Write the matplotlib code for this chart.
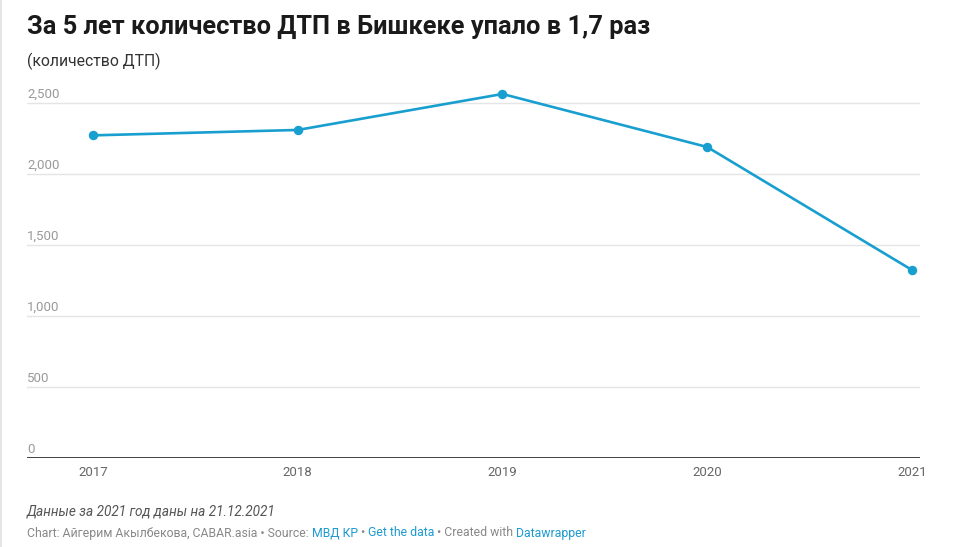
import matplotlib.pyplot as plt
from matplotlib.lines import Line2D
import matplotlib.transforms as mtransforms

years = [2017, 2018, 2019, 2020, 2021]
accidents = [2271, 2309, 2562, 2189, 1324]
y_ticks = [0, 500, 1000, 1500, 2000, 2500]
y_tick_labels = ["0", "500", "1,000", "1,500", "2,000", "2,500"]

title = "За 5 лет количество ДТП в Бишкеке упало в 1,7 раз"
subtitle = "(количество ДТП)"
note = "Данные за 2021 год даны на 21.12.2021"
footer = [("Chart: Айгерим Акылбекова, CABAR.asia • Source: ", "#888888"),
          ("МВД КР", "#1d9ad0"), (" • ", "#888888"),
          ("Get the data", "#1d9ad0"), (" • Created with ", "#888888"),
          ("Datawrapper", "#1d9ad0")]

plt.rcParams['font.family'] = ['Roboto', 'DejaVu Sans']
W, H = 955, 547
fig = plt.figure(figsize=(W / 100, H / 100), dpi=100)

# axes placed in pixel coordinates
left, right, top, bottom = 27, 920, 80, 458.3
ax = fig.add_axes([left / W, 1 - bottom / H, (right - left) / W, (bottom - top) / H])
ax.set_xlim(2017 - 66 / 205, 2021 + 8 / 205)
ax.set_ylim(0, (bottom - top) / 71.1 * 500)

for t in y_ticks[1:]:
    ax.axhline(t, color="#e5e5e5", lw=1, zorder=1)
ax.axhline(0, color="#333333", lw=1.3, zorder=2)

trans = mtransforms.blended_transform_factory(ax.transAxes, ax.transData)
for t, lab in zip(y_ticks, y_tick_labels):
    ax.annotate(lab, (0, t), xycoords=trans, xytext=(0, 1.6),
                textcoords="offset points", ha="left", va="bottom",
                fontsize=9.5, color="#9a9a9a")

ax.plot(years, accidents, color="#189fd0", lw=1.9, marker="o", markersize=5.8,
        zorder=3, clip_on=False)

for yr in years:
    ax.annotate(str(yr), (yr, 0), xytext=(0, -10), textcoords="offset points",
                ha="center", va="center", fontsize=9.5, color="#666666")

for s in ax.spines.values():
    s.set_visible(False)
ax.set_xticks([])
ax.set_yticks([])

fig.text(left / W, 1 - 27 / H, title, fontsize=18.3, fontweight="bold",
         color="#1a1a1a", va="center", ha="left")
fig.text(left / W, 1 - 61 / H, subtitle, fontsize=11.3, color="#333333",
         va="center", ha="left")
fig.text(left / W, 1 - 512 / H, note, fontsize=9.8, style="italic",
         color="#555555", va="center", ha="left")

# footer with coloured links, laid out piece by piece
fig.canvas.draw()
renderer = fig.canvas.get_renderer()
x = left
for txt, col in footer:
    t = fig.text(x / W, 1 - 533 / H, txt, fontsize=8.85, color=col,
                 va="center", ha="left")
    x += t.get_window_extent(renderer).width

fig.add_artist(Line2D([1 / W, 1 / W], [0, 1], color="#e0e0e0", lw=1.2))

fig.savefig("out.png", dpi=100)
